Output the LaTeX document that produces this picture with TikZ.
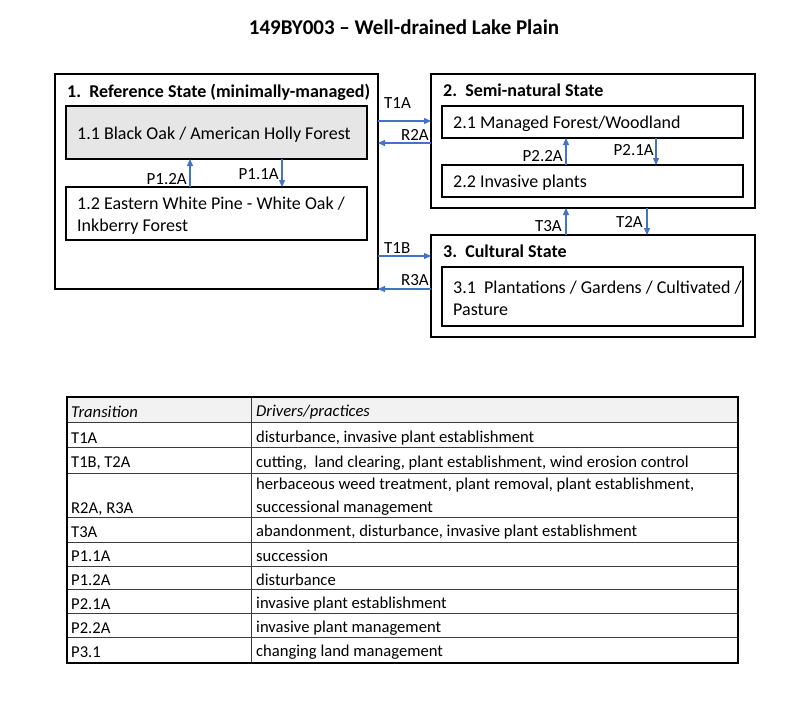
\documentclass[tikz,border=0pt]{standalone}
\usepackage{fontspec}
\setmainfont{Carlito}
\usetikzlibrary{arrows.meta,positioning}
\definecolor{FlowBlue}{RGB}{68,114,196}
\definecolor{BoxGray}{RGB}{230,230,230}
\definecolor{HeadGray}{RGB}{242,242,242}
\definecolor{RuleGray}{RGB}{60,60,60}

\begin{document}
\begin{tikzpicture}[x=1pt,y=-1pt,
    statebox/.style={draw, line width=2.4pt, inner sep=0pt, outer sep=0pt, anchor=north west},
    phasebox/.style={draw, line width=1.5pt, inner sep=0pt, outer sep=0pt, anchor=north west, minimum width=301pt},
    boxtext/.style={anchor=west, xshift=11pt, yshift=-2pt, align=left, inner sep=0pt, font=\fontsize{18}{22}\selectfont},
    statetitle/.style={anchor=base west, inner sep=0pt, font=\bfseries\fontsize{18}{20}\selectfont},
    lbl/.style={inner sep=0pt, font=\fontsize{17}{19}\selectfont},
    flow/.style={draw=FlowBlue, line width=1.3pt, -{Triangle[length=7pt,width=6pt]}},
    tabtext/.style={anchor=west, align=left, inner sep=0pt, font=\fontsize{16.6}{23}\selectfont},
    tabrule/.style={draw=RuleGray, line width=1pt}
  ]
  \path[use as bounding box, fill=white] (0,0) rectangle (800,710);

  \node[anchor=base, inner sep=0pt, font=\bfseries\fontsize{21}{24}\selectfont] (title) at (404,34)
    {149BY003 – Well-drained Lake Plain};

  % states
  \node[statebox, minimum width=323pt, minimum height=215pt] (s1) at (55,74) {};
  \node[statebox, minimum width=324pt, minimum height=134pt] (s2) at (431,74) {};
  \node[statebox, minimum width=324pt, minimum height=102pt] (s3) at (431,235) {};
  \node[statetitle] (s1title) at (67,97) {1.\ \ Reference State (minimally-managed)};
  \node[statetitle] (s2title) at (443,96) {2.\ \ Semi-natural State};
  \node[statetitle] (s3title) at (443,257) {3.\ \ Cultural State};

  % phases
  \node[phasebox, fill=BoxGray, minimum height=53pt,
    label={[boxtext]west:1.1 Black Oak / American Holly Forest}] (p11) at (66,106) {};
  \node[phasebox, minimum height=53pt,
    label={[boxtext]west:{1.2 Eastern White Pine - White Oak /\\Inkberry Forest}}] (p12) at (66,187) {};
  \node[phasebox, minimum height=32pt,
    label={[boxtext]west:2.1 Managed Forest/Woodland}] (p21) at (442,106) {};
  \node[phasebox, minimum height=32pt,
    label={[boxtext]west:2.2 Invasive plants}] (p22) at (442,165) {};
  \node[phasebox, minimum height=59pt,
    label={[boxtext]west:{3.1\ \ Plantations / Gardens / Cultivated /\\Pasture}}] (p31) at (442,267) {};

  % where the connectors run
  \coordinate (xa) at (190,0);
  \coordinate (xb) at (282,0);
  \coordinate (xc) at (566,0);
  \coordinate (xd) at (656,0);
  \coordinate (xe) at (647,0);
  \coordinate (ya) at (0,121);
  \coordinate (yb) at (0,143);
  \coordinate (yc) at (0,256);
  \coordinate (yd) at (0,289);

  % pathways inside states
  \draw[flow] (p12.north -| xa) -- (p11.south -| xa);
  \draw[flow] (p11.south -| xb) -- (p12.north -| xb);
  \draw[flow] (p22.north -| xc) -- (p21.south -| xc);
  \draw[flow] (p21.south -| xd) -- (p22.north -| xd);
  \node[lbl, anchor=east] (p12a) at (187,179) {P1.2A};
  \node[lbl, anchor=east] (p11a) at (279,174) {P1.1A};
  \node[lbl, anchor=east] (p22a) at (563,156) {P2.2A};
  \node[lbl, anchor=east] (p21a) at (654,150) {P2.1A};

  % transitions and restorations
  \draw[flow] (s1.east |- ya) -- (s2.west |- ya);
  \draw[flow] (s2.west |- yb) -- (s1.east |- yb);
  \draw[flow] (s1.east |- yc) -- (s3.west |- yc);
  \draw[flow] (s3.west |- yd) -- (s1.east |- yd);
  \draw[flow] (s3.north -| xc) -- (s2.south -| xc);
  \draw[flow] (s2.south -| xe) -- (s3.north -| xe);
  \node[lbl, anchor=west] (t1a) at (384,103) {T1A};
  \node[lbl, anchor=east] (r2a) at (429,135) {R2A};
  \node[lbl, anchor=west] (t1b) at (384,248) {T1B};
  \node[lbl, anchor=east] (r3a) at (429,280) {R3A};
  \node[lbl, anchor=east] (t3a) at (562,226) {T3A};
  \node[lbl, anchor=east] (t2a) at (643,222) {T2A};

  % table
  \fill[HeadGray] (67,397) rectangle (738,422);
  \foreach \yb in {422,447,473,517,542,566,589,613,637}
    \draw[tabrule] (67,\yb) -- (738,\yb);
  \draw[tabrule] (251,397) -- (251,663);
  \draw[line width=2pt] (67,397) rectangle (738,663);

  \node[tabtext] (hcode) at (71,412) {\itshape Transition};
  \node[tabtext] (hwhat) at (256,412) {\itshape Drivers/practices};
  \foreach \yc/\code/\what in {
      438/T1A/{disturbance, invasive plant establishment},
      463/{T1B, T2A}/{cutting,\ \ land clearing, plant establishment, wind erosion control},
      532/T3A/{abandonment, disturbance, invasive plant establishment},
      556/P1.1A/succession,
      580/P1.2A/disturbance,
      604/P2.1A/invasive plant establishment,
      628/P2.2A/invasive plant management,
      652/P3.1/changing land management}{
    \node[tabtext] (code\yc) at (71,\yc) {\code};
    \node[tabtext] (what\yc) at (256,\yc) {\what};
  }
  \node[tabtext] (code509) at (71,509) {R2A, R3A};
  \node[tabtext] (what497) at (256,497) {herbaceous weed treatment, plant removal, plant establishment,\\successional management};
\end{tikzpicture}
\end{document}
